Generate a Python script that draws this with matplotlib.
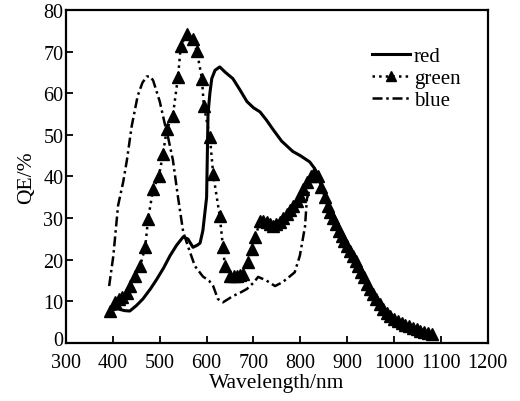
import numpy as np
import matplotlib
matplotlib.use('Agg')
import matplotlib.pyplot as plt
from matplotlib.transforms import ScaledTranslation

plt.rcParams['font.family'] = ['Liberation Serif', 'DejaVu Serif']

# red channel
red_wl = [400, 411, 425, 436, 450, 464, 480, 494, 508, 522, 536, 550, 560, 571, 580, 586,
          592, 597, 600, 603, 607, 611, 618, 628, 640, 656, 670, 686, 700, 714, 728, 741,
          760, 784, 800, 820, 830, 840, 850, 870, 900, 930, 960, 990, 1020, 1050, 1080]
red_qe = [8, 8.2, 7.8, 7.7, 9, 10.6, 13, 15.4, 18, 21, 23.5, 25.5, 25, 23, 23.5, 24,
          27, 32, 35, 55, 60, 63.5, 65.5, 66.3, 65, 63.5, 61, 58, 56.5, 55.5, 53.5, 51.4,
          48.5, 46, 45, 43.5, 42, 40, 36, 30, 23.2, 17, 10.8, 6.7, 4.6, 3.3, 2.3]

# green channel
green_wl = [394, 404, 412, 420, 430, 436, 447, 458, 469, 475, 486, 498, 507, 515, 528, 539,
            545, 558, 570, 579, 590, 594, 607, 614, 628, 635, 639, 650, 658, 664, 672, 678,
            688, 696, 704, 714, 721, 728, 735, 742, 749, 756, 764, 771, 778, 785, 792, 799,
            806, 814, 822, 830, 838, 845, 852, 858, 864, 870, 876, 882, 888, 894, 900, 906,
            912, 918, 924, 930, 936, 942, 948, 955, 962, 969, 976, 984, 992, 1000, 1008, 1016,
            1024, 1032, 1040, 1048, 1056, 1064, 1072, 1082]
green_qe = [7.7, 9.8, 10.5, 11, 12, 13.7, 16, 18.5, 23, 29.8, 37, 40, 45.4, 51.4, 54.6, 64,
            71.4, 74.3, 73, 70.2, 63.5, 57, 49.5, 40.6, 30.5, 23, 18.5, 16, 16.2, 16, 16.3, 16.6,
            19.5, 22.6, 25.5, 29.3, 29.2, 29, 28.5, 28, 28.5, 29, 30, 31, 32, 33, 34, 35.3,
            37, 38.7, 40, 40.8, 40, 37.5, 35, 33, 31.5, 30, 28.5, 27, 25.8, 24.5, 23.2, 22,
            20.8, 19.7, 18.5, 17, 15.8, 14.3, 13, 11.8, 10.5, 9.3, 8.2, 7.3, 6.5, 5.8, 5.2, 4.8,
            4.4, 4, 3.7, 3.4, 3, 2.7, 2.5, 2.2]

# blue channel
blue_wl = [392, 401, 411, 422, 430, 440, 453, 463, 472, 480, 486, 500, 510, 517, 528, 539,
           550, 560, 575, 592, 605, 614, 624, 635, 645, 656, 670, 686, 700, 710, 728, 746,
           760, 771, 788, 799, 810, 814, 822, 830, 840, 850, 870, 900, 930, 960, 990, 1020,
           1050, 1080]
blue_qe = [13.7, 21, 33, 38.7, 44, 52, 59.4, 62.5, 64, 64, 63, 58, 53, 49.8, 44, 35,
           26.7, 23.3, 18.5, 16, 15, 13.7, 10.6, 9.8, 10.5, 11.3, 12, 13, 14.5, 15.9, 15, 13.7,
           14.5, 15.4, 17, 21, 28, 34.6, 38, 40, 39, 36, 30, 23.2, 17, 10.8, 6.7, 4.6,
           3.3, 2.3]

fig = plt.figure(figsize=(5.2, 4.02), dpi=100)
ax = fig.add_axes([0.127, 0.144, 0.811, 0.829])

ax.plot(red_wl, red_qe, color='black', linewidth=2.2, linestyle='-', label='red')
ax.plot(green_wl, green_qe, color='black', linewidth=1.8, linestyle=':', marker='^',
        markersize=8.5, label='green')
ax.plot(blue_wl, blue_qe, color='black', linewidth=1.8, linestyle=(0, (4, 1.5, 1, 1.5)),
        label='blue')

ax.set_xlim(300, 1200)
ax.set_ylim(0, 80)
ax.set_xticks(np.arange(300, 1201, 100))
ax.set_yticks(np.arange(0, 81, 10))
ax.tick_params(direction='in', labelsize=14.5, width=1.3, length=5, pad=2)
ax.tick_params(axis='x', pad=7)
for s in ax.spines.values():
    s.set_linewidth(1.6)

# nudge the "0" label up so it doesn't sit on top of "300"
lab0 = ax.get_yticklabels()[0]
lab0.set_transform(lab0.get_transform() + ScaledTranslation(0, 4 / 72, fig.dpi_scale_trans))

ax.set_xlabel('Wavelength/nm', fontsize=15.5, labelpad=1)
ax.set_ylabel('QE/%', fontsize=15.5, labelpad=5)

leg = ax.legend(loc='upper right', bbox_to_anchor=(0.935, 0.89), frameon=False,
                fontsize=15, handlelength=1.8, handletextpad=0.2, labelspacing=0.12,
                borderpad=0, borderaxespad=0, markerscale=0.8)

fig.savefig('out.png', dpi=100)
